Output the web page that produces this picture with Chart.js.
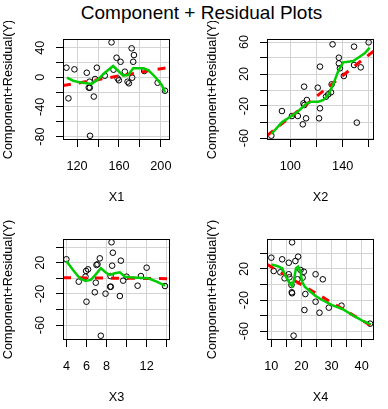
<!DOCTYPE html>
<html>
<head>
<meta charset="utf-8">
<script src="https://cdn.jsdelivr.net/npm/chart.js@4.4.0/dist/chart.umd.min.js"></script>
<style>
  body { margin: 0; background: #fff; }
  #wrap { position: relative; width: 388px; height: 409px; overflow: hidden; background: #fff; }
  #title { position: absolute; left: 0; top: 3px; width: 403px; text-align: center;
           font: 19px/19px "Liberation Sans", Arial, sans-serif; color: #000; }
  canvas { position: absolute; }
</style>
</head>
<body>
<div id="wrap">
  <div id="title">Component + Residual Plots</div>
  <canvas id="p1" width="194" height="194" style="left:0;top:21px"></canvas>
  <canvas id="p2" width="194" height="194" style="left:194px;top:21px"></canvas>
  <canvas id="p3" width="194" height="194" style="left:0;top:215px"></canvas>
  <canvas id="p4" width="194" height="194" style="left:194px;top:215px"></canvas>
</div>
<script>
// X1 panel
const x1 = [109.9, 111.8, 117.5, 129.3, 131.9, 131.2, 132.2, 136.0, 138.9, 132.4, 137.2, 146.5, 152.9, 154.8,
            157.7, 161.5, 158.7, 159.9, 165.6, 168.2, 169.5, 172.1, 174.3, 173.6, 172.6, 184.1, 196.9, 203.9];
const cr1 = [13.0, -28.4, 10.8, 6.2, -5.9, -14.0, -14.0, -26.0, 13.0, -79.0, -2.3, 2.2, 47.3, 10.3,
             26.5, 21.0, -1.4, -4.0, 7.6, -5.9, -8.1, 39.2, 30.1, 21.0, -0.5, 8.5, -7.3, -18.1];
const smooth1X = [110.4, 116.2, 122.6, 129.0, 133.8, 140.1, 146.5, 154.4, 159.2, 164.0, 168.8, 173.6, 183.2, 188.0, 194.4, 200.8, 203.9];
const smooth1Y = [-0.5, -4.6, -6.8, -8.1, -9.0, -2.7, 6.2, 15.3, 8.9, 2.2, 3.1, 12.2, 12.2, 9.9, 0.8, -10.4, -20.0];
const fit1 = [-37.35, 0.245];
const x1Ticks = [120, 140, 160, 180, 200];
const x1Labels = [120, 160, 200];
const y1Ticks = [-80, -60, -40, -20, 0, 20, 40];
const y1Labels = [-80, -40, 0, 40];

// X2 panel
const x2 = [85.6, 93.7, 101.3, 105.8, 110.1, 110.8, 110.6, 109.6, 112.1, 112.7, 121.0, 122.7, 122.0, 122.7,
            127.3, 129.0, 131.1, 131.6, 132.3, 137.1, 137.1, 137.9, 140.9, 148.7, 148.7, 153.8, 150.8, 159.8];
const cr2 = [-57.1, -26.3, -32.5, -32.5, -16.7, -18.8, 4.2, -42.9, -35.4, -12.5, 2.9, -22.9, -35.4, 29.2,
             -8.3, -5.4, -2.9, 7.1, 57.1, 40.4, 33.3, 27.1, 17.5, 54.2, 31.2, 28.3, -40.8, 59.6];
const smooth2X = [85.6, 93.7, 101.3, 106.3, 112.6, 116.4, 121.5, 125.3, 129.0, 132.8, 136.6, 140.4, 144.2, 148.0, 151.8, 156.8, 160.6];
const smooth2Y = [-55.0, -40.4, -32.1, -26.3, -16.7, -14.6, -14.6, -12.5, -6.2, 7.1, 23.7, 34.6, 35.4, 36.2, 40.4, 45.8, 52.9];
const fit2 = [-164.0, 1.3];
const x2Ticks = [100, 120, 140, 160];
const x2Labels = [100, 140];
const y2Ticks = [-60, -40, -20, 0, 20, 40, 60];
const y2Labels = [-60, -20, 20, 60];

// X3 panel
const x3 = [4.0, 5.23, 5.9, 5.96, 6.16, 6.0, 6.83, 6.93, 7.0, 7.1, 7.33, 8.5, 8.63, 8.56,
            8.36, 8.43, 7.9, 8.4, 7.43, 9.43, 9.33, 9.66, 10.0, 11.1, 11.43, 12.0, 13.83];
const cr3 = [24.4, -4.3, 2.1, 9.4, 11.5, -30.0, -17.9, -5.6, 17.1, 18.0, 25.6, 46.2, 32.8, 16.2,
             -10.8, -10.8, -19.7, 2.9, -73.6, 22.6, -22.7, -3.0, 2.1, -9.5, 2.9, 13.6, -9.9];
const smooth3X = [4.0, 4.66, 5.33, 5.9, 6.43, 6.83, 7.43, 7.9, 8.33, 8.83, 9.33, 9.83, 10.33, 11.16, 12.16, 13.0, 13.83];
const smooth3Y = [22.2, 10.6, 0.0, -3.4, -2.1, 3.4, 12.8, 7.7, 4.3, 6.4, 7.7, 2.1, 1.3, 0.8, 0.0, -4.3, -9.5];
const fit3 = [1.25, -0.122];
const x3Ticks = [4, 6, 8, 10, 12, 14];
const x3Labels = [4, 6, 8, 12];
const y3Ticks = [-60, -40, -20, 0, 20, 40];
const y3Labels = [-60, -20, 20];

// X4 panel
const x4 = [10.0, 10.8, 13.6, 13.0, 14.4, 15.8, 15.8, 16.0, 16.7, 16.8, 16.9, 16.9, 18.0, 18.9,
            18.7, 17.4, 19.7, 20.8, 20.4, 21.3, 21.0, 24.7, 24.7, 26.0, 27.1, 29.1, 33.3, 42.8];
const cr4 = [34.6, 17.4, 32.5, 15.7, 8.0, 28.1, 13.2, 9.3, -0.6, -10.0, -11.3, 54.4, 30.3, 35.9,
             6.7, -66.0, 18.7, 16.5, 8.8, -12.3, -32.9, 13.2, -22.2, -36.4, 6.7, -29.9, -27.3, -50.5];
const smooth4X = [10.0, 11.9, 13.6, 14.7, 15.8, 16.9, 17.4, 18.2, 18.9, 19.7, 20.2, 21.1, 23.0, 24.7, 26.9, 30.2, 33.6, 36.9, 40.2, 43.0];
const smooth4Y = [26.0, 23.9, 20.9, 11.4, 3.6, -1.9, 3.6, 20.9, 23.0, 16.5, 3.6, -2.8, -9.3, -14.8, -20.0, -26.5, -31.6, -39.4, -46.7, -51.4];
const fit4 = [45.6, -2.29];
const x4Ticks = [10, 15, 20, 25, 30, 35, 40];
const x4Labels = [10, 20, 30, 40];
const y4Ticks = [-60, -40, -20, 0, 20, 40];
const y4Labels = [-60, -20, 20];

const FONT = '12.7px "Liberation Sans", Arial, sans-serif';

// box, R-style rotated tick labels and axis titles
const rFrame = {
  id: 'rFrame',
  afterDraw(chart, args, o) {
    const { ctx, chartArea: a, scales } = chart;
    ctx.save();
    ctx.strokeStyle = '#000';
    ctx.lineWidth = 1;
    ctx.strokeRect(a.left + 0.5, a.top + 0.5, a.right - a.left - 1, a.bottom - a.top - 1);

    ctx.fillStyle = '#000';
    ctx.font = FONT;
    ctx.textAlign = 'center';
    ctx.textBaseline = 'middle';
    o.xLabels.forEach(v => ctx.fillText(String(v), scales.x.getPixelForValue(v), a.bottom + 26));
    ctx.fillText(o.xTitle, (a.left + a.right) / 2, a.bottom + 57);

    o.yLabels.forEach(v => {
      ctx.save();
      ctx.translate(a.left - 22.5, scales.y.getPixelForValue(v));
      ctx.rotate(-Math.PI / 2);
      ctx.fillText(String(v), 0, 0);
      ctx.restore();
    });
    ctx.translate(a.left - 54.5, (a.top + a.bottom) / 2);
    ctx.rotate(-Math.PI / 2);
    ctx.fillText(o.yTitle, 0, 0);
    ctx.restore();
  }
};

function axis(range, ticks, horizontal) {
  return {
    type: 'linear',
    min: range[0],
    max: range[1],
    afterBuildTicks: s => { s.ticks = ticks.map(v => ({ value: v })); },
    afterFit: s => { if (horizontal) s.height = 0; else s.width = 0; },
    ticks: { display: false },
    grid: { color: '#d3d3d3', tickColor: '#000', tickLength: 7, lineWidth: 1 },
    border: { display: false }
  };
}

function crPanel(id, p) {
  const pts = p.x.map((x, i) => ({ x, y: p.y[i] }));
  const fitPts = p.xRange.map(x => ({ x, y: p.fit[0] + p.fit[1] * x }));
  const smoothPts = p.sx.map((x, i) => ({ x, y: p.sy[i] }));

  new Chart(document.getElementById(id), {
    type: 'scatter',
    data: {
      datasets: [
        { data: pts, pointStyle: 'circle', pointRadius: 2.8, borderColor: '#000',
          backgroundColor: 'rgba(0,0,0,0)', borderWidth: 1, order: 3 },
        { data: fitPts, showLine: true, pointRadius: 0, borderColor: '#ff0000',
          borderWidth: 3, borderDash: [8, 8], order: 2 },
        { data: smoothPts, showLine: true, pointRadius: 0, borderColor: '#00cd00',
          borderWidth: 2.5, order: 1 }
      ]
    },
    options: {
      responsive: false,
      animation: false,
      events: [],
      layout: { padding: p.pad },
      plugins: {
        legend: { display: false },
        tooltip: { enabled: false },
        rFrame: { xLabels: p.xLabels, yLabels: p.yLabels, xTitle: p.xTitle, yTitle: 'Component+Residual(Y)' }
      },
      scales: {
        x: axis(p.xRange, p.xTicks, true),
        y: axis(p.yRange, p.yTicks, false)
      }
    },
    plugins: [rFrame]
  });
}

crPanel('p1', { x: x1, y: cr1, sx: smooth1X, sy: smooth1Y, fit: fit1,
  xRange: [106.6, 208.7], yRange: [-84.7, 51.8], xTicks: x1Ticks, xLabels: x1Labels,
  yTicks: y1Ticks, yLabels: y1Labels, xTitle: 'X1', pad: { left: 63, top: 18, right: 24, bottom: 75 } });
crPanel('p2', { x: x2, y: cr2, sx: smooth2X, sy: smooth2Y, fit: fit2,
  xRange: [82.3, 163.9], yRange: [-62.5, 63.75], xTicks: x2Ticks, xLabels: x2Labels,
  yTicks: y2Ticks, yLabels: y2Labels, xTitle: 'X2', pad: { left: 73, top: 18, right: 14, bottom: 75 } });
crPanel('p3', { x: x3, y: cr3, sx: smooth3X, sy: smooth3Y, fit: fit3,
  xRange: [3.66, 14.33], yRange: [-79.1, 50.4], xTicks: x3Ticks, xLabels: x3Labels,
  yTicks: y3Ticks, yLabels: y3Labels, xTitle: 'X3', pad: { left: 63, top: 24, right: 24, bottom: 69 } });
crPanel('p4', { x: x4, y: cr4, sx: smooth4X, sy: smooth4Y, fit: fit4,
  xRange: [8.57, 44.1], yRange: [-71.6, 58.7], xTicks: x4Ticks, xLabels: x4Labels,
  yTicks: y4Ticks, yLabels: y4Labels, xTitle: 'X4', pad: { left: 73, top: 24, right: 14, bottom: 69 } });
</script>
</body>
</html>
